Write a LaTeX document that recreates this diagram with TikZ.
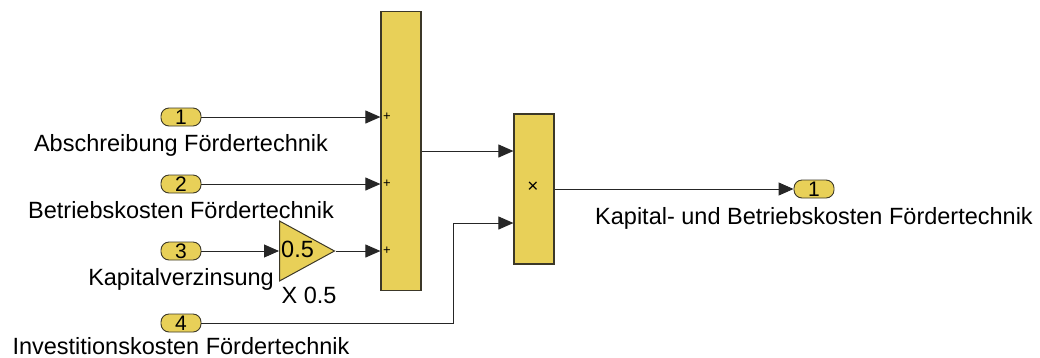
\documentclass[tikz,border=0pt]{standalone}
\usepackage{fontspec}
\setmainfont{Liberation Sans}
\usepackage{tikz}
\usetikzlibrary{shapes.geometric}
\usetikzlibrary{arrows.meta}
\definecolor{blockyellow}{RGB}{232,208,88}
\definecolor{edgegray}{RGB}{60,56,40}

\begin{document}
\begin{tikzpicture}[x=1pt, y=-1pt,
  port/.style={draw=edgegray, fill=blockyellow, rounded corners=8pt, minimum width=40pt, minimum height=18pt, inner sep=0pt, line width=0.9pt, font=\fontsize{21}{21}\selectfont},
  blockbox/.style={draw=edgegray, fill=blockyellow, line width=1.2pt, inner sep=0pt},
  gainbox/.style={isosceles triangle, isosceles triangle stretches, shape border rotate=0, draw=edgegray, fill=blockyellow, line width=1pt, minimum width=60pt, minimum height=55pt, inner sep=0pt},
  caption/.style={anchor=base, inner sep=0pt, font=\fontsize{23.5}{24}\selectfont},
  sign/.style={inner sep=0pt, font=\fontsize{13}{13}\selectfont},
  signal/.style={draw=black!85, line width=0.9pt, -{Triangle[length=15pt, width=13pt]}}]
			\useasboundingbox (0,0) rectangle (1040,357);
			% Nodes
			\node[blockbox, minimum width=40pt, minimum height=279pt] (sum) at (401,151) {};
			\node[blockbox, minimum width=40pt, minimum height=150pt] (prod) at (534,189) {};
			\node[gainbox, anchor=lower side] (gain) at (279,251) {};
			\node[port] (in1) at (181,117) {1};
			\node[port] (in2) at (181,184) {2};
			\node[port] (in3) at (181,251) {3};
			\node[port] (in4) at (181,323) {4};
			\node[port] (out1) at (814,189) {1};
			\coordinate (bend) at (453,223);
			% Texts
			\node[caption] (l1) at (181,151) {Abschreibung Fördertechnik};
			\node[caption] (l2) at (181,218) {Betriebskosten Fördertechnik};
			\node[caption] (l3) at (181,285) {Kapitalverzinsung};
			\node[caption] (l4) at (181,354) {Investitionskosten Fördertechnik};
			\node[caption] (lout) at (814,224) {Kapital- und Betriebskosten Fördertechnik};
			\node[caption] (lgain) at (309,303) {X 0.5};
			\node[caption, anchor=west] (gval) at (281,249) {0.5};
			\node[sign] (s1) at (387,117) {+};
			\node[sign] (s2) at (387,184) {+};
			\node[sign] (s3) at (387,251) {+};
			\node[sign, font=\fontsize{19}{19}\selectfont] (times) at (533,187) {×};
			% Edges
			\draw[signal] (in1) -- (in1 -| sum.west);
			\draw[signal] (in2) -- (in2 -| sum.west);
			\draw[signal] (in3) -- (gain.lower side);
			\draw[signal] (gain.apex) -- (gain.apex -| sum.west);
			\draw[signal] (sum.east) -- (sum.east -| prod.west);
			\draw[signal] (in4) -| (bend) -- (bend -| prod.west);
			\draw[signal] (prod.east) -- (out1.west);
		\end{tikzpicture}
\end{document}
